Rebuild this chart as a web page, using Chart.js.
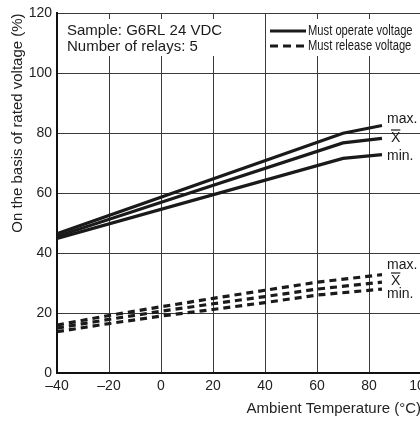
<!DOCTYPE html>
<html>
<head>
<meta charset="utf-8">
<script src="https://cdn.jsdelivr.net/npm/chart.js@4/dist/chart.umd.min.js"></script>
<style>
html,body{margin:0;padding:0;background:#fff;overflow:hidden;}
#wrap{width:440px;height:422px;}
</style>
</head>
<body>
<div id="wrap"><canvas id="c" width="440" height="422"></canvas></div>
<script>
// Temperatures (°C) of the read points
const operateTemps = [-40, 70, 85];
const operateMax  = [46.5, 80.0, 82.6];
const operateMean = [45.6, 76.8, 78.3];
const operateMin  = [44.9, 71.6, 72.9];

const releaseTemps = [-40, -20, 0, 20, 40, 60, 85];
const releaseMax  = [16.0, 19.2, 22.1, 24.9, 27.6, 30.3, 32.8];
const releaseMean = [15.0, 17.9, 20.6, 23.1, 25.5, 28.0, 30.3];
const releaseMin  = [13.8, 16.5, 19.0, 21.2, 23.5, 26.0, 28.0];

const xTicks = [-40, -20, 0, 20, 40, 60, 80, 100];
const yTicks = [0, 20, 40, 60, 80, 100, 120];

const sampleLines = ['Sample: G6RL 24 VDC', 'Number of relays: 5'];
const legendLabels = ['Must operate voltage', 'Must release voltage'];
const endLabels = ['max.', 'X', 'min.'];
const xTitle = 'Ambient Temperature (\u00B0C)';
const yTitle = 'On the basis of rated voltage (%)';

function pts(xs, ys){ return xs.map((x,i)=>({x:x, y:ys[i]})); }

const INK = '#1a1a1a';
function ds(label, xs, ys, dashed){
  return {label, data: pts(xs, ys), borderColor: INK, borderWidth: 3.2,
    borderDash: dashed ? [7,5] : [], pointRadius: 0, tension: 0,
    borderCapStyle: 'butt', fill: false};
}

const overlay = {
  id: 'overlay',
  afterDraw(chart){
    const ctx = chart.ctx;
    const xs = chart.scales.x;
    ctx.save();
    // white boxes behind texts
    ctx.fillStyle = '#fff';
    ctx.fillRect(62, 19, 163, 37);
    ctx.fillRect(267, 19, 150, 37);
    // sample text
    ctx.fillStyle = INK;
    ctx.font = '15px "Liberation Sans", Arial, sans-serif';
    ctx.textBaseline = 'middle';
    ctx.textAlign = 'left';
    ctx.fillText(sampleLines[0], 67, 31);
    ctx.fillText(sampleLines[1], 67, 47);
    // legend
    ctx.strokeStyle = INK;
    ctx.lineWidth = 3.2;
    ctx.beginPath(); ctx.moveTo(270, 31); ctx.lineTo(306, 31); ctx.stroke();
    ctx.setLineDash([8,5]);
    ctx.beginPath(); ctx.moveTo(270, 46); ctx.lineTo(306, 46); ctx.stroke();
    ctx.setLineDash([]);
    ctx.font = '14px "Liberation Sans", Arial, sans-serif';
    [[legendLabels[0], 31], [legendLabels[1], 46]].forEach(([t, y]) => {
      ctx.save();
      ctx.translate(308, y);
      ctx.scale(0.8, 1);
      ctx.fillText(t, 0, 0);
      ctx.restore();
    });
    // end labels
    const lx = xs.getPixelForValue(operateTemps[operateTemps.length-1]) + 5;
    ctx.font = '14px "Liberation Sans", Arial, sans-serif';
    const drawGroup = (yMax, yMean, yMin) => {
      ctx.fillText(endLabels[0], lx, yMax);
      ctx.fillText(endLabels[1], lx + 4, yMean);
      const w = ctx.measureText(endLabels[1]).width;
      ctx.lineWidth = 1.2;
      ctx.beginPath(); ctx.moveTo(lx + 4, yMean - 8); ctx.lineTo(lx + 4 + w, yMean - 8); ctx.stroke();
      ctx.fillText(endLabels[2], lx, yMin);
    };
    drawGroup(119, 138, 156);
    drawGroup(265, 281, 294);
    ctx.restore();
  }
};

new Chart(document.getElementById('c'), {
  type: 'line',
  data: {
    datasets: [
      ds('Operate max', operateTemps, operateMax, false),
      ds('Operate mean', operateTemps, operateMean, false),
      ds('Operate min', operateTemps, operateMin, false),
      ds('Release max', releaseTemps, releaseMax, true),
      ds('Release mean', releaseTemps, releaseMean, true),
      ds('Release min', releaseTemps, releaseMin, true)
    ]
  },
  options: {
    responsive: false,
    animation: false,
    devicePixelRatio: 1,
    layout: {padding: {left: 0, top: 12, right: 19, bottom: 0}},
    plugins: {legend: {display: false}, tooltip: {enabled: false}},
    scales: {
      x: {
        type: 'linear', min: -40, max: 100,
        afterBuildTicks: s => { s.ticks = xTicks.map(v => ({value: v})); },
        afterFit: s => { s.height = 49; },
        grid: {color: '#3a3a3a', lineWidth: 1, drawTicks: false},
        border: {color: '#111', width: 2},
        ticks: {color: '#222', padding: 5, maxRotation: 0,
          font: {family: '"Liberation Sans", Arial, sans-serif', size: 14},
          callback: v => v < 0 ? '\u2013' + Math.abs(v) : String(v)},
        title: {display: true, text: xTitle, align: 'end', color: '#222',
          font: {family: '"Liberation Sans", Arial, sans-serif', size: 15},
          padding: {top: 3, bottom: 4}}
      },
      y: {
        type: 'linear', min: 0, max: 120,
        afterBuildTicks: s => { s.ticks = yTicks.map(v => ({value: v})); },
        afterFit: s => { s.width = 57; },
        grid: {color: '#3a3a3a', lineWidth: 1, drawTicks: false},
        border: {color: '#111', width: 2},
        ticks: {color: '#222', padding: 5,
          font: {family: '"Liberation Sans", Arial, sans-serif', size: 14}},
        title: {display: true, text: yTitle, align: 'end', color: '#222',
          font: {family: '"Liberation Sans", Arial, sans-serif', size: 15},
          padding: {top: 9, bottom: 0}}
      }
    }
  },
  plugins: [overlay]
});
</script>
</body>
</html>
